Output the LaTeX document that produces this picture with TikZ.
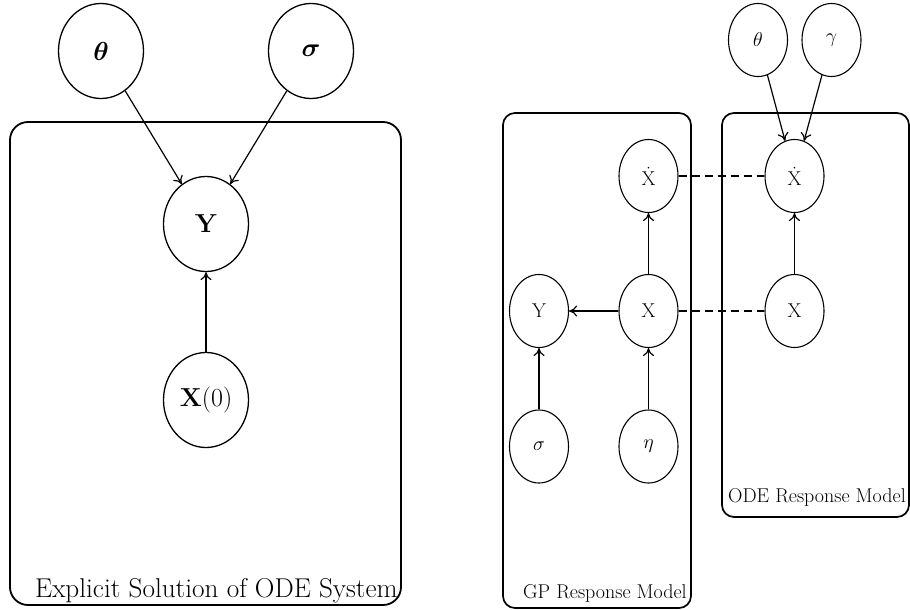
\RequirePackage{fix-cm}
\documentclass[tikz,border=0pt]{standalone}
\usepackage{amsmath,bm}
\usetikzlibrary{shapes.geometric,arrows.meta}
\begin{document}
\begin{tikzpicture}[x=1pt,y=-1pt,
  bigvar/.style={ellipse,draw,line width=1.3pt,inner sep=0pt,minimum width=85pt,minimum height=95pt,font=\fontsize{26}{31}\selectfont},
  smallvar/.style={ellipse,draw,line width=1.1pt,inner sep=0pt,minimum width=59pt,minimum height=73pt,font=\fontsize{20}{24}\selectfont},
  bigplate/.style={draw,line width=1.8pt,rounded corners=18pt,inner sep=0pt},
  smallplate/.style={draw,line width=1.7pt,rounded corners=12pt,inner sep=0pt},
  biglabel/.style={anchor=base west,inner sep=0pt,font=\fontsize{27.2}{32}\selectfont},
  smalllabel/.style={anchor=base west,inner sep=0pt,font=\fontsize{20}{24}\selectfont},
  conn/.style={line width=1.2pt,-{To[length=8pt,width=11pt]}},
  dashline/.style={line width=1.2pt,dash pattern=on 8pt off 5pt}]
\useasboundingbox (0,0) rectangle (910,610);
% left panel
\node[bigplate,minimum width=391pt,minimum height=483pt] (explicit) at (205.5,363.5) {};
\node[biglabel] (explabel) at (35,597) {Explicit Solution of ODE System};
\node[bigvar] (theta1) at (101,51) {$\boldsymbol{\theta}$};
\node[bigvar] (sigma1) at (311,51) {$\boldsymbol{\sigma}$};
\node[bigvar] (Y1) at (206,224) {\textbf{Y}};
\node[bigvar] (X0) at (206,400) {\textbf{X}(0)};
\draw[conn] (theta1) -- (Y1);
\draw[conn] (sigma1) -- (Y1);
\draw[conn] (X0) -- (Y1);
% right panel
\node[smallplate,minimum width=188pt,minimum height=495pt] (gp) at (597,360.5) {};
\node[smallplate,minimum width=187pt,minimum height=404pt] (ode) at (815.5,315) {};
\node[smalllabel] (gplabel) at (523,598) {GP Response Model};
\node[smalllabel] (odelabel) at (728,502) {ODE Response Model};
\node[smallvar] (theta2) at (758,40) {$\theta$};
\node[smallvar] (gamma2) at (831.5,40) {$\gamma$};
\node[smallvar] (dxgp) at (648.5,176) {$\dot{\mathrm{X}}$};
\node[smallvar] (dxode) at (794.5,176) {$\dot{\mathrm{X}}$};
\node[smallvar] (ygp) at (539,311) {Y};
\node[smallvar] (xgp) at (648.5,311) {X};
\node[smallvar] (xode) at (794.5,311) {X};
\node[smallvar] (sigma2) at (539,446.5) {$\sigma$};
\node[smallvar] (eta2) at (648.5,446.5) {$\eta$};
\draw[conn] (theta2) -- (dxode);
\draw[conn] (gamma2) -- (dxode);
\draw[conn] (xode) -- (dxode);
\draw[conn] (xgp) -- (dxgp);
\draw[conn] (xgp) -- (ygp);
\draw[conn] (sigma2) -- (ygp);
\draw[conn] (eta2) -- (xgp);
\draw[dashline] (dxgp) -- (dxode);
\draw[dashline] (xgp) -- (xode);
\end{tikzpicture}
\end{document}
